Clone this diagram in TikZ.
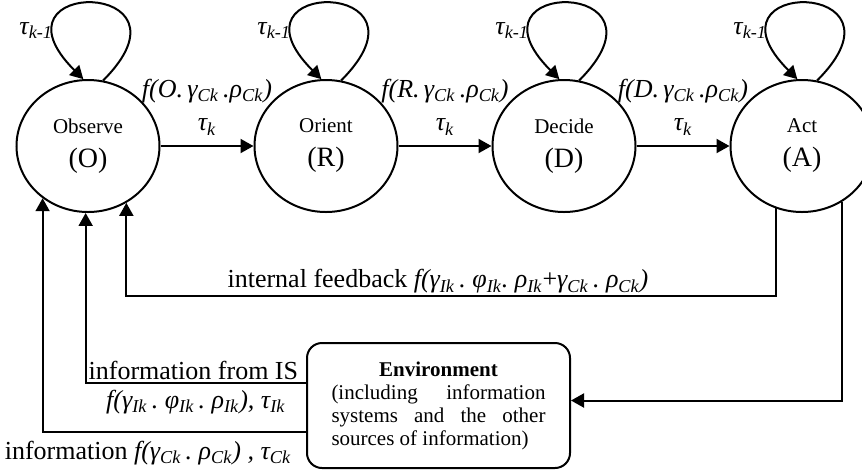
\documentclass[tikz,border=0pt]{standalone}
\usepackage{fontspec}
\setmainfont{Liberation Serif}
\usetikzlibrary{arrows.meta,shapes.geometric,positioning}
\newcommand{\ix}[1]{\textsubscript{#1}}

\begin{document}
\begin{tikzpicture}[x=0.5pt,y=-0.5pt,
  state/.style={draw,ellipse,line width=1pt,minimum width=71.5pt,
    minimum height=66pt,inner sep=0pt,align=center,
    font=\fontsize{10.5}{13}\selectfont},
  link/.style={line width=1pt,-{Triangle[length=6.5pt,width=7pt]}},
  lbl/.style={font=\fontsize{13}{15}\selectfont,inner sep=1pt},
  envbox/.style={draw,rounded corners=7.5pt,line width=1pt,
    minimum width=131.5pt,minimum height=62.5pt,text width=107pt,
    align=justify,font=\fontsize{10.5}{11.5}\selectfont}
]
  \useasboundingbox (0,0) rectangle (862,473);

  % OODA states
  \node[state] (obs) at (88,146) {Observe\\[4pt]{\fontsize{14}{17}\selectfont(O)}};
  \node[state,right=46.5pt of obs] (ori) {Orient\\[4pt]{\fontsize{14}{17}\selectfont(R)}};
  \node[state,right=46.5pt of ori] (dec) {Decide\\[4pt]{\fontsize{14}{17}\selectfont(D)}};
  \node[state,right=46.5pt of dec] (act) {Act\\[4pt]{\fontsize{14}{17}\selectfont(A)}};

  \node[envbox] (env) at (438.5,405.5)
    {\makebox[\linewidth][c]{\textbf{Environment}}\\
     (including information systems and the other sources of information)};

  % self loops
  \foreach \s in {obs,ori,dec,act}
    \draw[link] (\s.77) .. controls +(102,-102) and +(-102,-102) .. (\s.94)
      node[lbl,pos=0.8,left] {\textit{τ\ix{k-1}}};

  % forward transitions
  \foreach \a/\b/\l in {obs/ori/O,ori/dec/R,dec/act/D}
    \draw[link] (\a.east) -- (\b.west)
      node[lbl,midway,above=4pt] {\textit{τ\ix{k}}}
      node[lbl,midway,above=20pt] {\textit{f(\l.\,γ\ix{Ck}\,.ρ\ix{Ck})}};

  % feedback paths
  \draw[link] (act.247) -- ++(0,88) -| (obs.304)
    node[lbl,pos=0.26,above] {internal feedback \textit{f(γ\ix{Ik}\,.\ φ\ix{Ik}.\ ρ\ix{Ik}}+\textit{γ\ix{Ck}\,.\ ρ\ix{Ck})}};
  \draw[link] (act.306) |- ([yshift=2.5pt]env.east);
  \draw[link] ([yshift=11.25pt]env.west) -| (obs.268)
    node[lbl,pos=0.5,above right] {information from IS}
    node[lbl,pos=0.25,below=2pt] {\textit{f(γ\ix{Ik}\,.\ φ\ix{Ik}\,.\ ρ\ix{Ik}), τ\ix{Ik}}};
  \draw[link] ([yshift=-13.25pt]env.west) -| (obs.229)
    node[lbl,pos=0.3,below=3pt] {information \textit{f(γ\ix{Ck}\,.\ ρ\ix{Ck})\ , τ\ix{Ck}}};
\end{tikzpicture}
\end{document}
